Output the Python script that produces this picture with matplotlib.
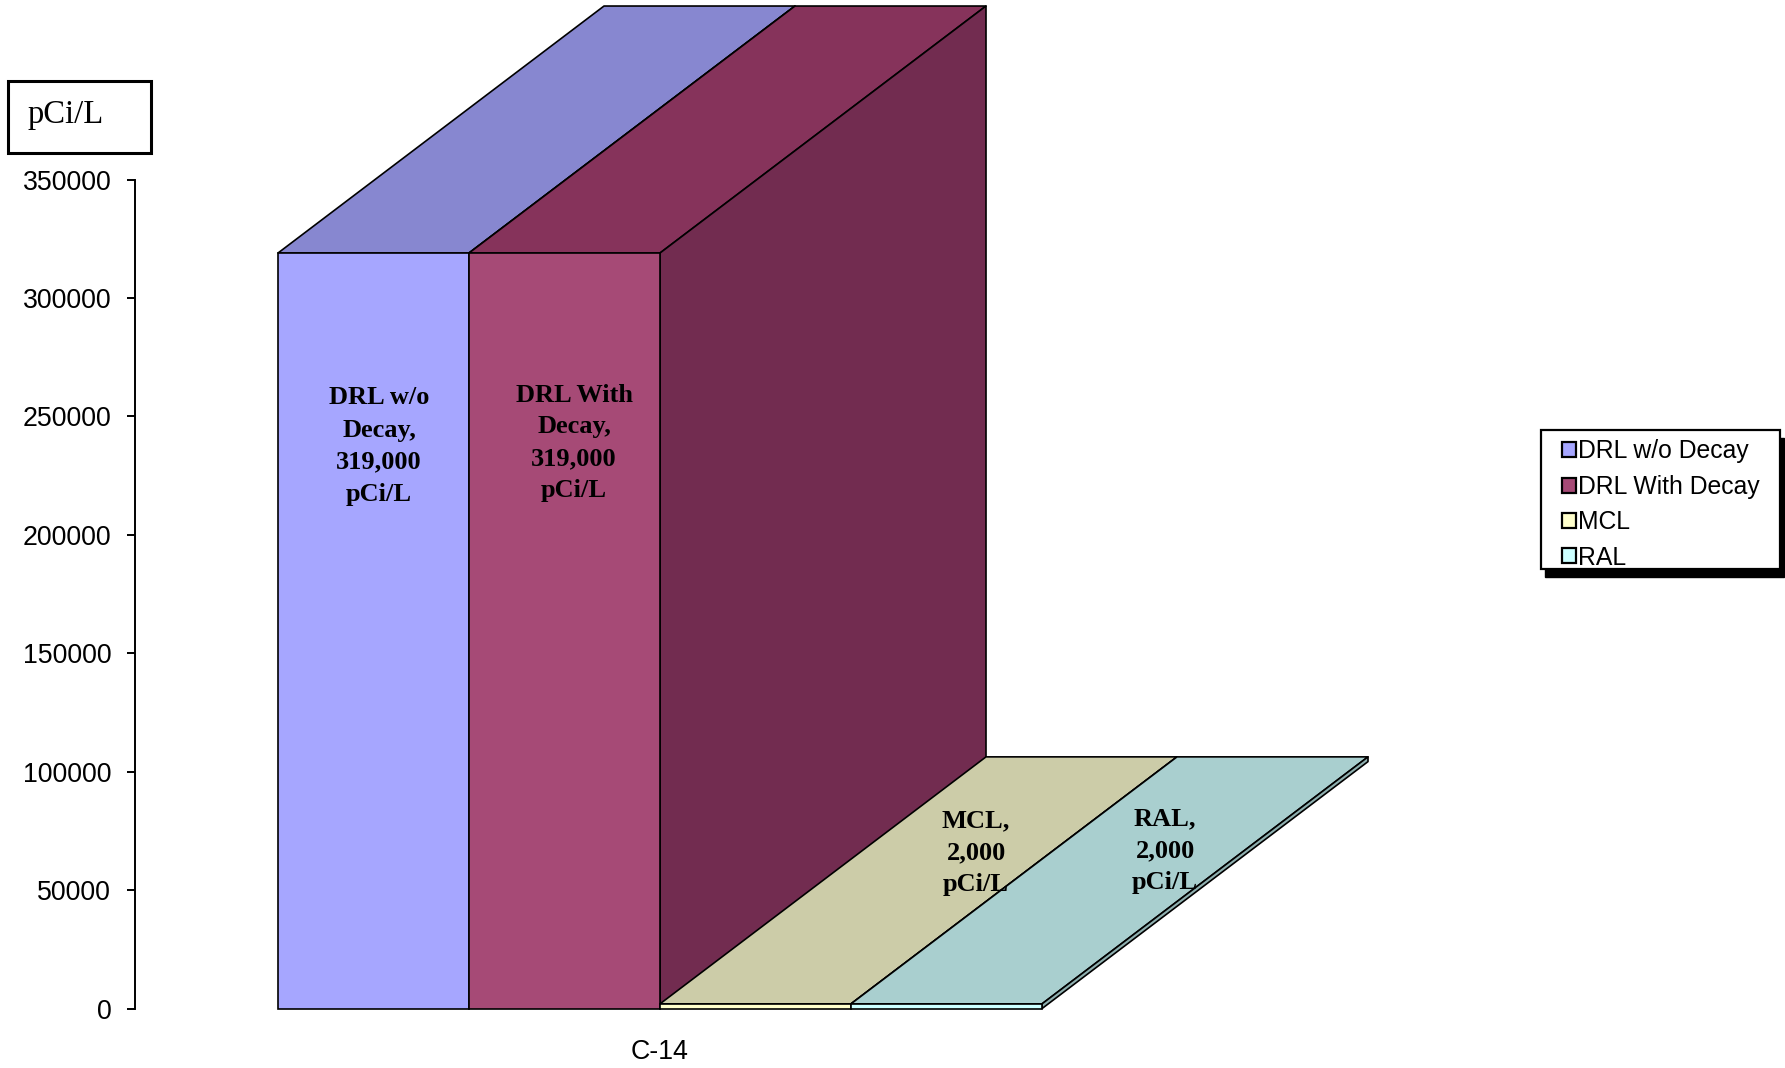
import matplotlib
matplotlib.use('Agg')
import matplotlib.pyplot as plt
from matplotlib.patches import Rectangle, Patch

W, H = 1785, 1068

# Chart data
categories = ['C-14']
series_names = ['DRL w/o Decay', 'DRL With Decay', 'MCL', 'RAL']
series_values = [319000, 319000, 2000, 2000]
y_ticks = [0, 50000, 100000, 150000, 200000, 250000, 300000, 350000]
bar_labels = ['DRL w/o\nDecay,\n319,000\npCi/L', 'DRL With\nDecay,\n319,000\npCi/L',
              'MCL,\n2,000\npCi/L', 'RAL,\n2,000\npCi/L']

# Colours per series: front, top, side
front_colors = ['#A6A6FF', '#A64A76', '#FFFFCC', '#CCFFFF']
top_colors = ['#8787D0', '#86335B', '#CCCCA8', '#A9CFCF']
side_colors = ['#6C6CB0', '#722C50', '#A8A88A', '#8FB0B0']

# Where the labels sit, in pixels from the top left
label_pos = [(379, 446), (574, 443), (976, 853), (1165, 851)]

# 3D depth of the bars, in axis units
depth_x = 326 / 191
depth_y = 247 / 829 * 350000

fig = plt.figure(figsize=(W / 100, H / 100), dpi=100)
plt.rcParams['font.family'] = 'Liberation Sans'

ax = fig.add_axes([135 / W, (H - 1008.6) / H, (1042 - 135) / W, 829 / H])
ax.set_xlim(-143 / 191, 4)
ax.set_ylim(0, 350000)

# Draw the bars left to right so that each one overlaps the last
for i, v in enumerate(series_values):
    x0, x1 = i, i + 1
    ax.fill([x0, x1, x1 + depth_x, x0 + depth_x], [v, v, v + depth_y, v + depth_y],
            facecolor=top_colors[i], edgecolor='black', linewidth=1.2, clip_on=False, joinstyle='round')
    ax.fill([x1, x1 + depth_x, x1 + depth_x, x1], [0, depth_y, v + depth_y, v],
            facecolor=side_colors[i], edgecolor='black', linewidth=1.2, clip_on=False, joinstyle='round')
    ax.bar(x0 + 0.5, v, width=1, facecolor=front_colors[i], edgecolor='black', linewidth=1.2, clip_on=False)

for s in ['top', 'right', 'bottom']:
    ax.spines[s].set_visible(False)
ax.spines['left'].set_linewidth(1.4)

ax.set_yticks(y_ticks)
ax.set_yticklabels([str(t) for t in y_ticks], fontsize=19.3, family='Liberation Sans')
ax.tick_params(axis='y', length=5.6, width=1.4, pad=11.5)
ax.set_xticks([2])
ax.set_xticklabels(categories, fontsize=19.3, family='Liberation Sans')
ax.tick_params(axis='x', length=0, pad=22)
ax.patch.set_visible(False)

for text, (px, py) in zip(bar_labels, label_pos):
    fig.text(px / W, 1 - py / H, text, ha='center', va='center', family='Liberation Serif',
             fontweight='bold', fontsize=19, linespacing=1.5)

# Unit box, top left
fig.add_artist(Rectangle((8 / W, 1 - 153 / H), 143 / W, 72 / H, transform=fig.transFigure,
                         facecolor='white', edgecolor='black', linewidth=2.2))
fig.text(28 / W, 1 - 123 / H, 'pCi/L', family='Liberation Serif', fontsize=23.5, ha='left', va='baseline')

# Legend frame and its hard shadow, the entries go on top
fig.add_artist(Rectangle((1545 / W, 1 - 577 / H), 239 / W, 139 / H, transform=fig.transFigure,
                         facecolor='black', edgecolor='black', linewidth=1))
fig.add_artist(Rectangle((1541 / W, 1 - 569 / H), 239 / W, 139 / H, transform=fig.transFigure,
                         facecolor='white', edgecolor='black', linewidth=1.6))
handles = [Patch(facecolor=c, edgecolor='black', linewidth=1.6) for c in front_colors]
leg = fig.legend(handles, series_names, loc='upper left', bbox_to_anchor=(1562 / W, 1 - 439.5 / H),
                 borderaxespad=0, frameon=False,
                 prop={'family': 'Liberation Sans', 'size': 17.85}, handlelength=0.56, handleheight=0.56,
                 handletextpad=0.1, labelspacing=0.46, borderpad=0)

plt.savefig('out.png', dpi=100)
plt.close()
